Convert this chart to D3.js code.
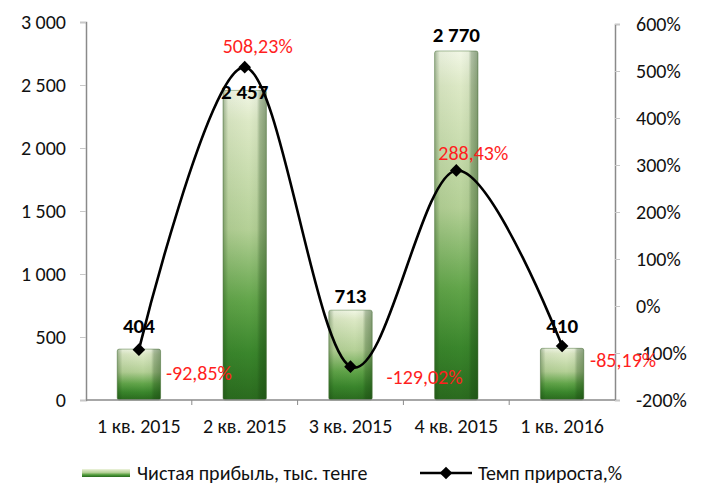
<!DOCTYPE html>
<html>
<head>
<meta charset="utf-8">
<script src="https://cdn.jsdelivr.net/npm/d3@7"></script>
<style>
  body { margin: 0; background: #fff; }
  svg { display: block; font-family: Carlito, Lato, "Open Sans", sans-serif; }
</style>
</head>
<body>
<div id="chart"></div>
<script>
// data
const quarters = ["1 кв. 2015", "2 кв. 2015", "3 кв. 2015", "4 кв. 2015", "1 кв. 2016"];
const profit = [404, 2457, 713, 2770, 410];            // тыс. тенге
const growth = [-92.85, 508.23, -129.02, 288.43, -85.19]; // %
const leftTicks = [0, 500, 1000, 1500, 2000, 2500, 3000];
const rightTicks = [-200, -100, 0, 100, 200, 300, 400, 500, 600];

// label nudges (Excel placed them by hand)
const pctNudge = [[60, 23], [13, -21], [74, 10], [17, -17], [61, 14]];
const valNudge = [-23, 1, -15, -16, -23];

const width = 704, height = 487;
const plotLeft = 86, plotRight = 615, plotTop = 22, plotBottom = 400;
const fontSize = '20px';

const ru = d3.formatLocale({decimal: ",", thousands: " ", grouping: [3], currency: ["", ""], minus: "-"});
const fmtNum = ru.format(",d");
const fmtPct = d => ru.format(".2f")(d) + "%";

const svg = d3.select('#chart')
    .append('svg')
    .attr('width', width)
    .attr('height', height);

const x = d3.scaleBand().domain(quarters).range([plotLeft, plotRight]);
const yL = d3.scaleLinear().domain([0, 3000]).range([plotBottom, plotTop]);
const yR = d3.scaleLinear().domain([-200, 600]).range([plotBottom, 24]);
const barW = x.bandwidth() * 0.41;

// gradients for the glossy bars
const defs = svg.append('defs');
const gv = defs.append('linearGradient').attr('id', 'barV')
    .attr('x1', 0).attr('y1', 0).attr('x2', 0).attr('y2', 1);
[[0, '#f2f7e6'], [0.1, '#dde9c6'], [0.45, '#b4d096'], [0.68, '#62a54a'], [0.85, '#3a862c'], [1, '#2a6a1e']]
    .forEach(s => gv.append('stop').attr('offset', s[0]).attr('stop-color', s[1]));
const gh = defs.append('linearGradient').attr('id', 'barH')
    .attr('x1', 0).attr('y1', 0).attr('x2', 1).attr('y2', 0);
[[0, 0.35], [0.12, 0.05], [0.6, 0], [0.78, 0.05], [0.85, 0.3], [1, 0.45]]
    .forEach(s => gh.append('stop').attr('offset', s[0]).attr('stop-color', '#143c0c').attr('stop-opacity', s[1]));

// bars
const bars = svg.append('g');
bars.selectAll('rect.bar')
    .data(profit)
    .enter().append('rect')
    .attr('class', 'bar')
    .attr('x', (d, i) => x(quarters[i]) + (x.bandwidth() - barW) / 2)
    .attr('y', d => yL(d))
    .attr('width', barW)
    .attr('height', d => plotBottom - yL(d))
    .attr('rx', 2)
    .style('fill', 'url(#barV)')
    .style('stroke', '#6d8f5c')
    .style('stroke-width', 0.6);
bars.selectAll('rect.shade')
    .data(profit)
    .enter().append('rect')
    .attr('class', 'shade')
    .attr('x', (d, i) => x(quarters[i]) + (x.bandwidth() - barW) / 2)
    .attr('y', d => yL(d))
    .attr('width', barW)
    .attr('height', d => plotBottom - yL(d))
    .attr('rx', 2)
    .style('fill', 'url(#barH)');

// axes
const axisColor = '#8a8a8a';
const axL = svg.append('g').attr('transform', `translate(${plotLeft},0)`)
    .call(d3.axisLeft(yL).tickValues(leftTicks).tickFormat(fmtNum).tickSize(6).tickPadding(14));
const axR = svg.append('g').attr('transform', `translate(${plotRight},0)`)
    .call(d3.axisRight(yR).tickValues(rightTicks).tickFormat(d => d + '%').tickSize(5).tickPadding(16));
const axB = svg.append('g').attr('transform', `translate(0,${plotBottom})`)
    .call(d3.axisBottom(x).tickSize(0).tickPadding(19));
// category separators on the x axis
axB.selectAll('line.sep')
    .data(quarters.slice(1))
    .enter().append('line')
    .attr('class', 'sep')
    .attr('x1', d => x(d)).attr('x2', d => x(d))
    .attr('y1', 0).attr('y2', 5)
    .style('stroke', axisColor);

[axL, axR, axB].forEach(a => {
    a.select('.domain').style('stroke', axisColor).style('stroke-width', 1.5);
    a.selectAll('.tick line').style('stroke', '#c8c8c8');
    a.selectAll('text').style('font-size', fontSize).style('fill', '#111');
    a.attr('font-family', null);
});
axB.select('.domain').attr('d', `M${plotLeft},0H${plotRight}`);

// growth line
const pts = growth.map((g, i) => [x(quarters[i]) + x.bandwidth() / 2, yR(g)]);
svg.append('path')
    .datum(pts)
    .attr('d', d3.line().curve(d3.curveCardinal))
    .style('fill', 'none')
    .style('stroke', '#000')
    .style('stroke-width', 2.6);
const diamond = d3.symbol().type(d3.symbolSquare).size(80);
svg.append('g').selectAll('path')
    .data(pts)
    .enter().append('path')
    .attr('d', diamond)
    .attr('transform', d => `translate(${d[0]},${d[1]}) rotate(45)`)
    .style('fill', '#000');

// value labels
svg.append('g').selectAll('text')
    .data(profit)
    .enter().append('text')
    .attr('x', (d, i) => x(quarters[i]) + x.bandwidth() / 2)
    .attr('y', (d, i) => yL(d) + valNudge[i])
    .attr('dy', '0.35em')
    .attr('text-anchor', 'middle')
    .style('font-size', '21px')
    .style('font-weight', 'bold')
    .style('fill', '#000')
    .text(d => fmtNum(d));

// growth labels
svg.append('g').selectAll('text')
    .data(growth)
    .enter().append('text')
    .attr('x', (d, i) => pts[i][0] + pctNudge[i][0])
    .attr('y', (d, i) => pts[i][1] + pctNudge[i][1])
    .attr('dy', '0.35em')
    .attr('text-anchor', 'middle')
    .style('font-size', fontSize)
    .style('fill', '#ff1e1e')
    .text(d => fmtPct(d));

// legend
const lg = svg.append('g').attr('transform', 'translate(0,473)');
lg.append('rect')
    .attr('x', 82).attr('y', -4).attr('width', 48).attr('height', 8)
    .style('fill', 'url(#barV)');
lg.append('text')
    .attr('x', 137).attr('dy', '0.35em')
    .style('font-size', fontSize).style('fill', '#111')
    .text('Чистая прибыль, тыс. тенге');
lg.append('line')
    .attr('x1', 420).attr('x2', 472).attr('y1', 0).attr('y2', 0)
    .style('stroke', '#000').style('stroke-width', 2.6);
lg.append('path')
    .attr('d', diamond)
    .attr('transform', 'translate(446,0) rotate(45)')
    .style('fill', '#000');
lg.append('text')
    .attr('x', 478).attr('dy', '0.35em')
    .style('font-size', fontSize).style('fill', '#111')
    .text('Темп прироста,%');
</script>
</body>
</html>
